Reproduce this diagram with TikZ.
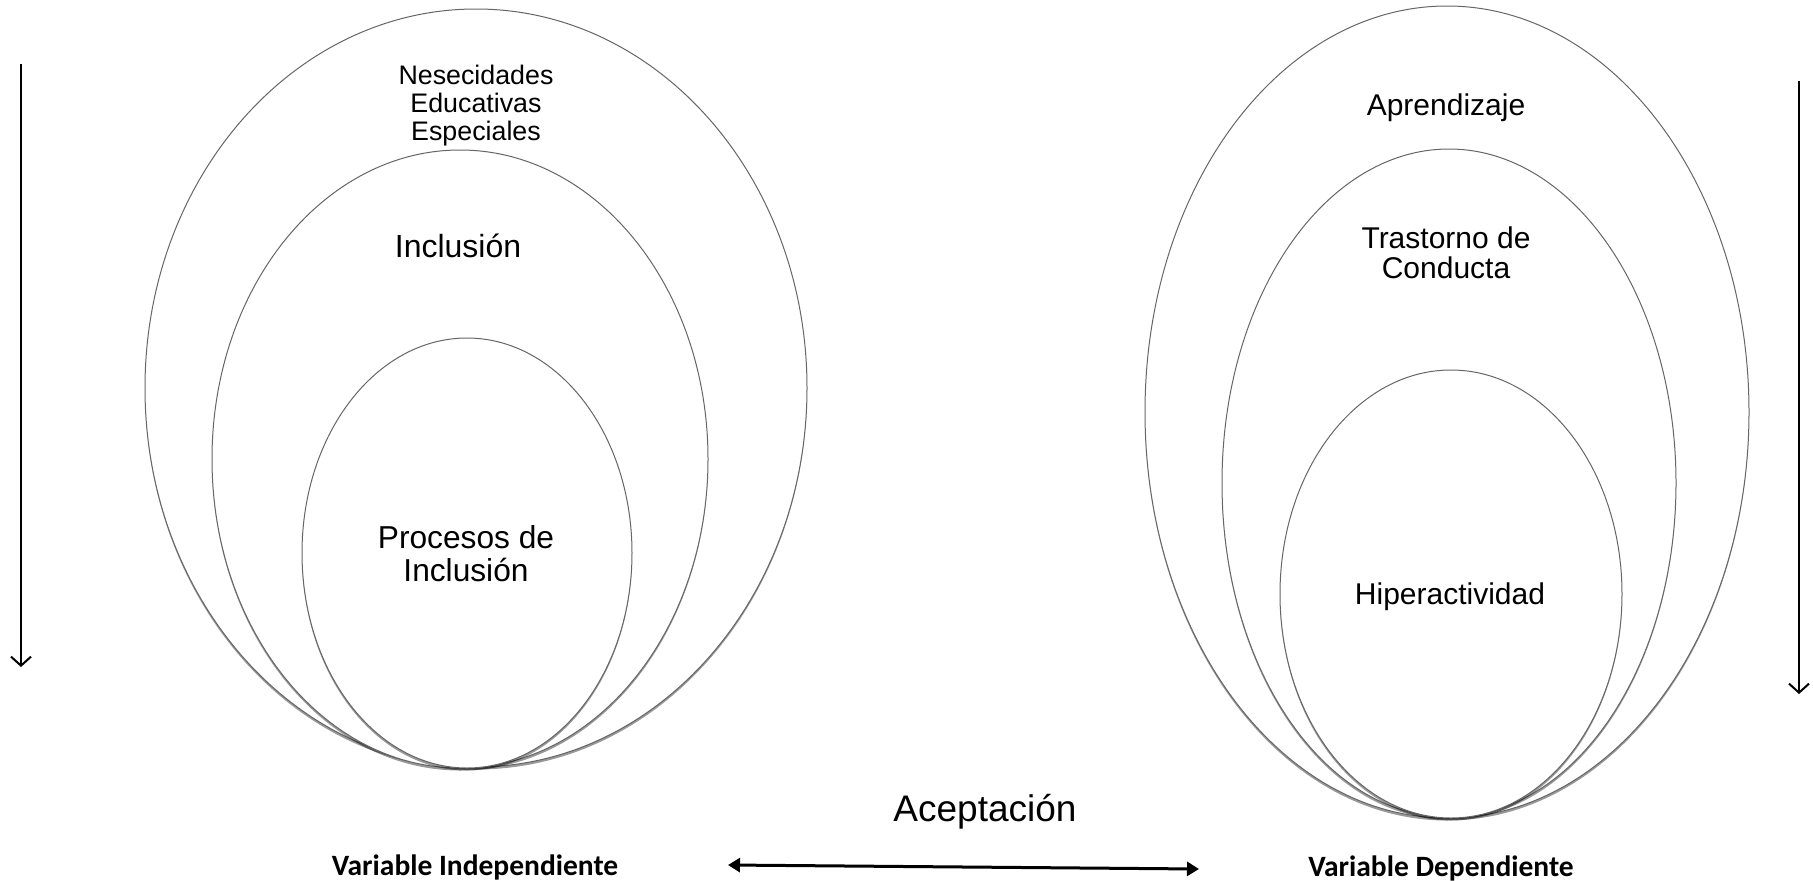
\documentclass[tikz,border=0pt]{standalone}
\usepackage{fontspec}
\setmainfont{Liberation Sans}
\newfontfamily\calibri{Carlito}
\usetikzlibrary{shapes.geometric,shadows,arrows.meta}

\begin{document}
\begin{tikzpicture}[x=1pt,y=-1pt,
  ring/.style={ellipse,draw=black!60,line width=1pt,fill=white,inner sep=0pt,outer sep=0pt,
    drop shadow={shadow xshift=0pt,shadow yshift=-2.5pt,opacity=0.4,fill=black}},
  txt/.style={font=\fontsize{30}{32.5}\selectfont,align=center,inner sep=0pt},
  var/.style={font=\calibri\bfseries\fontsize{29.5}{32}\selectfont,inner sep=0pt}]
\useasboundingbox[fill=white] (0,0) rectangle (1813,881);
% left side
\node[ring,minimum width=662pt,minimum height=758pt] (nee) at (476,388) {};
\node[ring,minimum width=496pt,minimum height=618pt] (incl) at (460,459) {};
\node[ring,minimum width=330pt,minimum height=430pt] (proc) at (467,553) {};
\node[txt,font=\fontsize{26.8}{28}\selectfont] (neetxt) at (476,106) {Nesecidades\\Educativas\\Especiales};
\node[txt,font=\fontsize{32}{34}\selectfont] (incltxt) at (458,246) {Inclusión};
\node[txt,font=\fontsize{31.7}{33}\selectfont] (proctxt) at (466,554) {Procesos de\\Inclusión};
% right side
\node[ring,minimum width=604pt,minimum height=812pt] (apr) at (1447,412) {};
\node[ring,minimum width=454pt,minimum height=668pt] (tras) at (1449,483) {};
\node[ring,minimum width=342pt,minimum height=448pt] (hip) at (1451,594) {};
\node[txt] (aprtxt) at (1446,108) {Aprendizaje};
\node[txt,font=\fontsize{30}{30.5}\selectfont] (trastxt) at (1446,253) {Trastorno de\\Conducta};
\node[txt] (hiptxt) at (1450,597) {Hiperactividad};
% labels
\node[txt,font=\fontsize{37}{40}\selectfont] (acep) at (985,812) {Aceptación};
\node[var] (vind) at (475,867) {Variable Independiente};
\node[var] (vdep) at (1441,868) {Variable Dependiente};
% arrows
\coordinate (la) at (21,64);
\coordinate (lb) at (21,667);
\coordinate (ra) at (1799,81);
\coordinate (rb) at (1799,694);
\coordinate (ba) at (728,865);
\coordinate (bb) at (1199,869);
\draw[line width=2pt,-{Straight Barb[length=9pt,width=20pt]}] (la) -- (lb);
\draw[line width=2pt,-{Straight Barb[length=9pt,width=20pt]}] (ra) -- (rb);
\draw[line width=3pt,{Triangle[length=12pt,width=14pt]}-{Triangle[length=12pt,width=14pt]}] (ba) -- (bb);
\end{tikzpicture}
\end{document}
